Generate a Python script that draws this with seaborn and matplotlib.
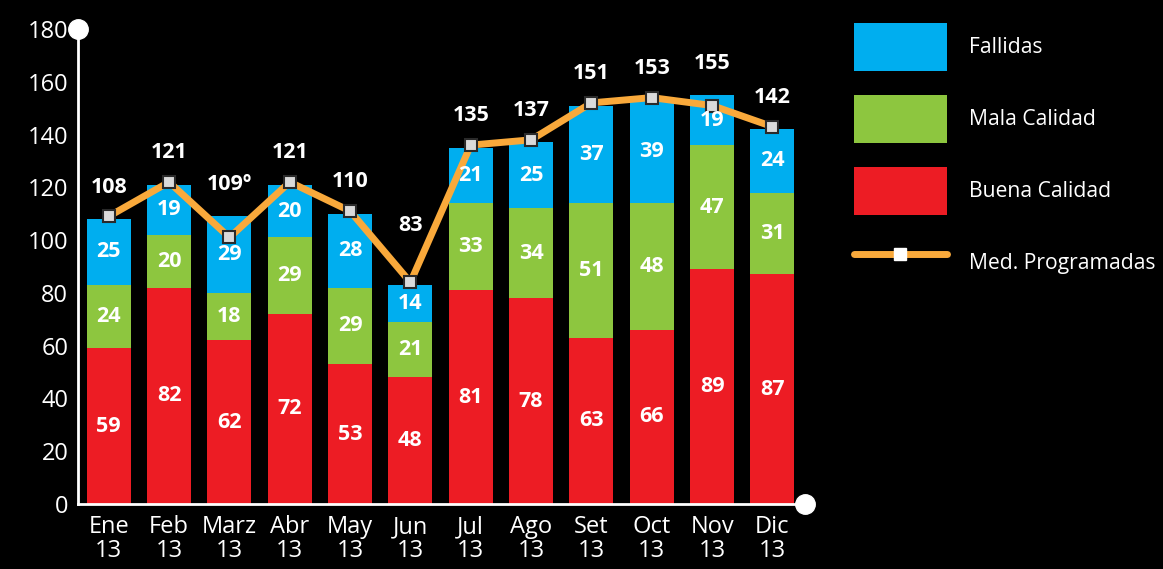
import numpy as np
import pandas as pd
import seaborn as sns
import matplotlib.pyplot as plt
from matplotlib.patches import Patch
from matplotlib.lines import Line2D

# ---- data ----
months = ["Ene", "Feb", "Marz", "Abr", "May", "Jun", "Jul", "Ago", "Set", "Oct", "Nov", "Dic"]
year = "13"
buena = [59, 82, 62, 72, 53, 48, 81, 78, 63, 66, 89, 87]
mala = [24, 20, 18, 29, 29, 21, 33, 34, 51, 48, 47, 31]
fallidas = [25, 19, 29, 20, 28, 14, 21, 25, 37, 39, 19, 24]
total_labels = ["108", "121", "109º", "121", "110", "83", "135", "137", "151", "153", "155", "142"]
programadas = [109, 122, 101, 122, 111, 84, 136, 138, 152, 154, 151, 143]
y_ticks = [0, 20, 40, 60, 80, 100, 120, 140, 160, 180]
series_names = ["Fallidas", "Mala Calidad", "Buena Calidad", "Med. Programadas"]

# ---- style ----
BLUE = "#00AEEF"
GREEN = "#8DC63F"
RED = "#ED1C24"
ORANGE = "#F9A93B"

sns.set_theme(style="dark", rc={
    "figure.facecolor": "black",
    "axes.facecolor": "black",
    "savefig.facecolor": "black",
    "axes.grid": False,
    "text.color": "white",
    "xtick.color": "white",
    "ytick.color": "white",
})
plt.rcParams["font.family"] = ["Open Sans", "DejaVu Sans"]

df = pd.DataFrame({"mes": months, "buena": buena, "mala": mala, "fallidas": fallidas})
df["bm"] = df["buena"] + df["mala"]
df["total"] = df["bm"] + df["fallidas"]

fig = plt.figure(figsize=(11.63, 5.69), dpi=100)
ax = fig.add_axes([78 / 1163, 1 - 504 / 569, (805 - 78) / 1163, (504 - 29) / 569])

W = 0.73
sns.barplot(data=df, x="mes", y="total", order=months, color=BLUE, saturation=1,
            width=W, edgecolor="none", ax=ax)
sns.barplot(data=df, x="mes", y="bm", order=months, color=GREEN, saturation=1,
            width=W, edgecolor="none", ax=ax)
sns.barplot(data=df, x="mes", y="buena", order=months, color=RED, saturation=1,
            width=W, edgecolor="none", ax=ax)

xpos = np.arange(len(months))
sns.lineplot(x=xpos, y=programadas, color=ORANGE, lw=5, marker="s", markersize=9,
             markerfacecolor="#DADADA", markeredgecolor="#2a2a2a", markeredgewidth=1.5,
             solid_joinstyle="round", ax=ax, zorder=6)

# segment labels
lab_kw = dict(ha="center", va="center", color="white", fontsize=15.5, fontweight="bold", zorder=7)
for i in range(len(months)):
    ax.text(i, buena[i] / 2, str(buena[i]), **lab_kw)
    ax.text(i, buena[i] + mala[i] / 2, str(mala[i]), **lab_kw)
    ax.text(i, buena[i] + mala[i] + fallidas[i] / 2, str(fallidas[i]), **lab_kw)
    off = 43 if months[i] == "Jun" else 23
    ax.annotate(total_labels[i], xy=(i, df["total"][i]), xytext=(0, off),
                textcoords="offset points", ha="center", va="center",
                color="white", fontsize=15.5, fontweight="bold", zorder=7)

ax.set_xlim(-0.51, 11.54)
ax.set_ylim(0, 180)
ax.set_yticks(y_ticks)
ax.set_yticklabels([str(t) for t in y_ticks], fontsize=17)
ax.set_xticks(xpos)
ax.set_xticklabels([f"{m}\n{year}" for m in months], fontsize=17, linespacing=1.0)
ax.tick_params(axis="both", length=0)
ax.tick_params(axis="y", pad=7)
ax.tick_params(axis="x", pad=8)
ax.set_xlabel("")
ax.set_ylabel("")

for s in ["top", "right"]:
    ax.spines[s].set_visible(False)
for s in ["left", "bottom"]:
    ax.spines[s].set_visible(True)
    ax.spines[s].set_color("white")
    ax.spines[s].set_linewidth(2)

# decorative end circles on the axes
ax.plot([0], [1], "o", transform=ax.transAxes, ms=14, color="white", clip_on=False, zorder=10)
ax.plot([1], [0], "o", transform=ax.transAxes, ms=14, color="white", clip_on=False, zorder=10)

handles = [
    Patch(facecolor=BLUE, edgecolor="none"),
    Patch(facecolor=GREEN, edgecolor="none"),
    Patch(facecolor=RED, edgecolor="none"),
    Line2D([0], [0], color=ORANGE, lw=5, marker="s", markersize=9,
           markerfacecolor="white", markeredgecolor="white", solid_capstyle="round"),
]
fig.legend(handles, series_names, loc="upper left",
           bbox_to_anchor=(854 / 1163, 1 - 23 / 569), frameon=False, fontsize=15.2,
           handlelength=4.4, handleheight=3.15, labelspacing=1.12, handletextpad=1.05,
           borderpad=0, borderaxespad=0, labelcolor="white")

fig.savefig("out.png", dpi=100)
